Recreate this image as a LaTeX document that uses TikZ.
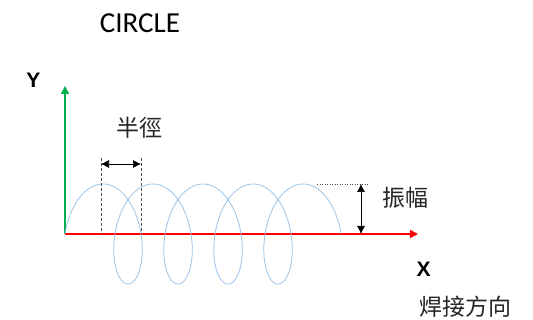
\documentclass[tikz,border=0pt]{standalone}
\usepackage{fontspec}
\usepackage{tikz}
\usetikzlibrary{arrows.meta}
\newfontfamily\cjk{Noto Sans CJK TC}
\newfontfamily\calib{Carlito}
\newfontfamily\axisfont{Liberation Sans}

\begin{document}
\begin{tikzpicture}[x=1pt,y=-1pt,
    axis/.style={line width=1.6pt,-{Triangle[length=8pt,width=8pt]}},
    curve/.style={draw={rgb,255:red,157;green,195;blue,230},line width=0.8pt},
    guide/.style={draw=black!70,densely dashed,line width=0.5pt},
    dim/.style={line width=0.6pt,{Latex[length=8pt,width=8pt]}-{Latex[length=8pt,width=8pt]}},
    cjklabel/.style={font=\cjk\fontsize{23}{23}\selectfont,text=black!85,inner sep=0pt},
    axislabel/.style={font=\axisfont\bfseries\fontsize{21}{21}\selectfont,inner sep=0pt}]
    \useasboundingbox (0,0) rectangle (533,320);

    % axes
    \coordinate (O) at (65,234);
    \coordinate (ytip) at (65,86);
    \coordinate (xtip) at (418,234);
    \draw[axis,draw={rgb,255:red,0;green,176;blue,80},fill={rgb,255:red,0;green,176;blue,80}] (O) -- (ytip);
    \draw[axis,draw=red,fill=red] (O) -- (xtip);
    \node[axislabel] (ylab) at (33.5,80.5) {Y};
    \node[axislabel] (xlab) at (423.5,269.5) {X};
    \node[cjklabel] (dir) at (465,307) {焊接方向};
    \node[font=\calib\fontsize{29}{29}\selectfont,inner sep=0pt] (title) at (140,23.5) {CIRCLE};

    % circle weaving path
    \draw[curve] plot[domain=0:9*pi,samples=500,variable=\t]
        ({65+25.5*(1-cos(\t r))+7.96*\t},{234-50*sin(\t r)});

    % radius
    \coordinate (r1) at (101,158);
    \coordinate (r2) at (141,158);
    \draw[guide] (r1) -- (101,234);
    \draw[guide] (r2) -- (141,234);
    \draw[dim] (101,164) -- (141,164);
    \node[cjklabel] (rlab) at (139.5,127.5) {半徑};

    % amplitude
    \coordinate (a1) at (317,184);
    \coordinate (a2) at (368,184);
    \draw[guide,dotted] (a1) -- (a2);
    \draw[dim] (361,184) -- (361,234);
    \node[cjklabel] (alab) at (405,198) {振幅};
\end{tikzpicture}
\end{document}
